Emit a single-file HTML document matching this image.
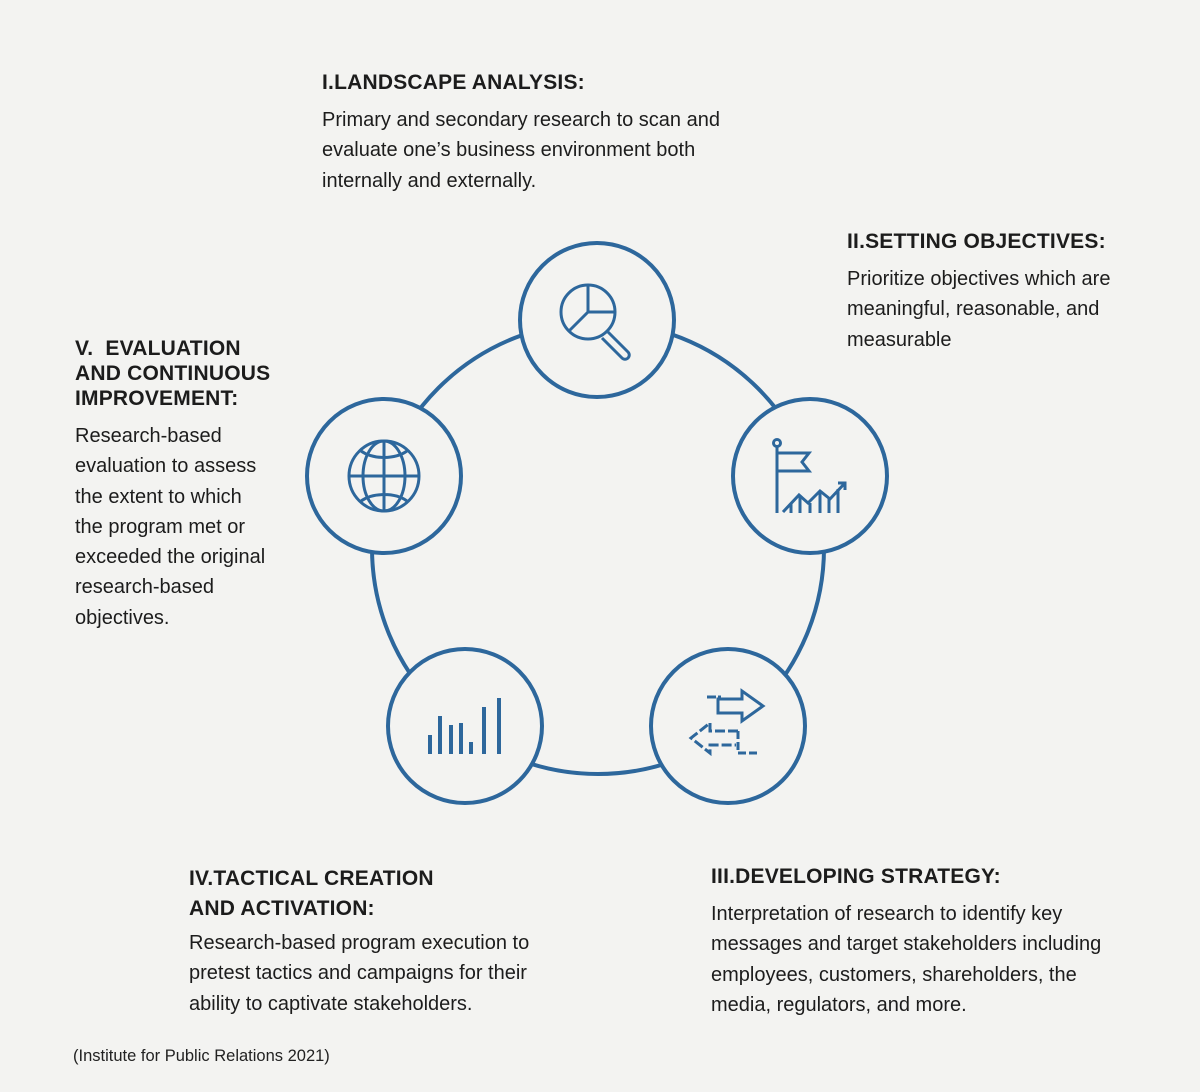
<!DOCTYPE html>
<html><head><meta charset="utf-8"><style>
body{margin:0;width:1200px;height:1092px;background:#f3f3f1;position:relative;font-family:"Source Sans Pro","Liberation Sans",sans-serif;color:#1c1c1c;overflow:hidden}
.b{position:absolute}
.t{font-weight:bold;font-size:21px;line-height:25px;letter-spacing:0.2px}
.p{font-size:20px;line-height:30.3px;margin-top:10px}
.c{position:absolute;left:73px;top:1047px;font-size:16.5px;color:#222}
</style></head><body>
<svg class="b" style="left:0;top:0" width="1200" height="1092" fill="none" stroke="#2d679c" stroke-width="4">
<circle cx="598" cy="548" r="226"/>
<g fill="#f3f3f1">
<circle cx="597" cy="320" r="77"/>
<circle cx="810" cy="476" r="77"/>
<circle cx="728" cy="726" r="77"/>
<circle cx="465" cy="726" r="77"/>
<circle cx="384" cy="476" r="77"/>
</g>
<g stroke-width="3">
<circle cx="588" cy="312" r="27"/>
<path d="M588 285v27h27M588 312l-19 19"/>
<path d="M608 332l20 20a4 4 0 0 1-6 6l-20-20" />
<path d="M777 446v67M777 453h32l-7 9 7 9h-32"/>
<circle cx="777" cy="443" r="3.5" fill="#f3f3f1"/>
<path d="M783 512l16-17 9 8 12-12 10 8 15-16M838 483h7v7M791 504v9M800 495v18M810 503v10M820 491v22M829 497v16M838 489v24"/>
<circle cx="384" cy="476" r="35"/>
<ellipse cx="384" cy="476" rx="21" ry="35"/>
<path d="M384 441v70M349 476h70M361 451a30 18 0 0 0 46 0M361 501a30 18 0 0 1 46 0"/>
<path d="M431 754v-19M441 754v-38M452 754v-29M462 754v-31M472 754v-12M485 754v-47" stroke-width="4" transform="translate(-1 0)"/>
<path d="M499 754v-56" stroke-width="4"/>
<path d="M718 699h24v-8l21 15-21 15v-8h-24z"/>
<path d="M707 697h9M718 697h3" />
<path d="M738 731h-28v-8l-19 15 19 15v-8h26" stroke-dasharray="10 3"/>
<path d="M738 731v22h19" stroke-dasharray="8 3"/>
</g>
</svg>
<div class="b" style="left:322px;top:70px;width:440px"><div class="t">I.LANDSCAPE ANALYSIS:</div><div class="p">Primary and secondary research to scan and evaluate one’s business environment both internally and externally.</div></div>
<div class="b" style="left:847px;top:229px;width:290px"><div class="t">II.SETTING OBJECTIVES:</div><div class="p">Prioritize objectives which are meaningful, reasonable, and measurable</div></div>
<div class="b" style="left:75px;top:336px;width:230px"><div class="t">V.&nbsp; EVALUATION<br>AND CONTINUOUS<br>IMPROVEMENT:</div><div class="p">Research-based<br>evaluation to assess<br>the extent to which<br>the program met or<br>exceeded the original<br>research-based<br>objectives.</div></div>
<div class="b" style="left:189px;top:864px;width:380px"><div class="t" style="line-height:30px">IV.TACTICAL CREATION<br>AND ACTIVATION:</div><div class="p" style="margin-top:4px">Research-based program execution to pretest tactics and campaigns for their ability to captivate stakeholders.</div></div>
<div class="b" style="left:711px;top:864px;width:420px"><div class="t" style="line-height:25px">III.DEVELOPING STRATEGY:</div><div class="p">Interpretation of research to identify key messages and target stakeholders including employees, customers, shareholders, the media, regulators, and more.</div></div>
<div class="c">(Institute for Public Relations 2021)</div>
</body></html>
